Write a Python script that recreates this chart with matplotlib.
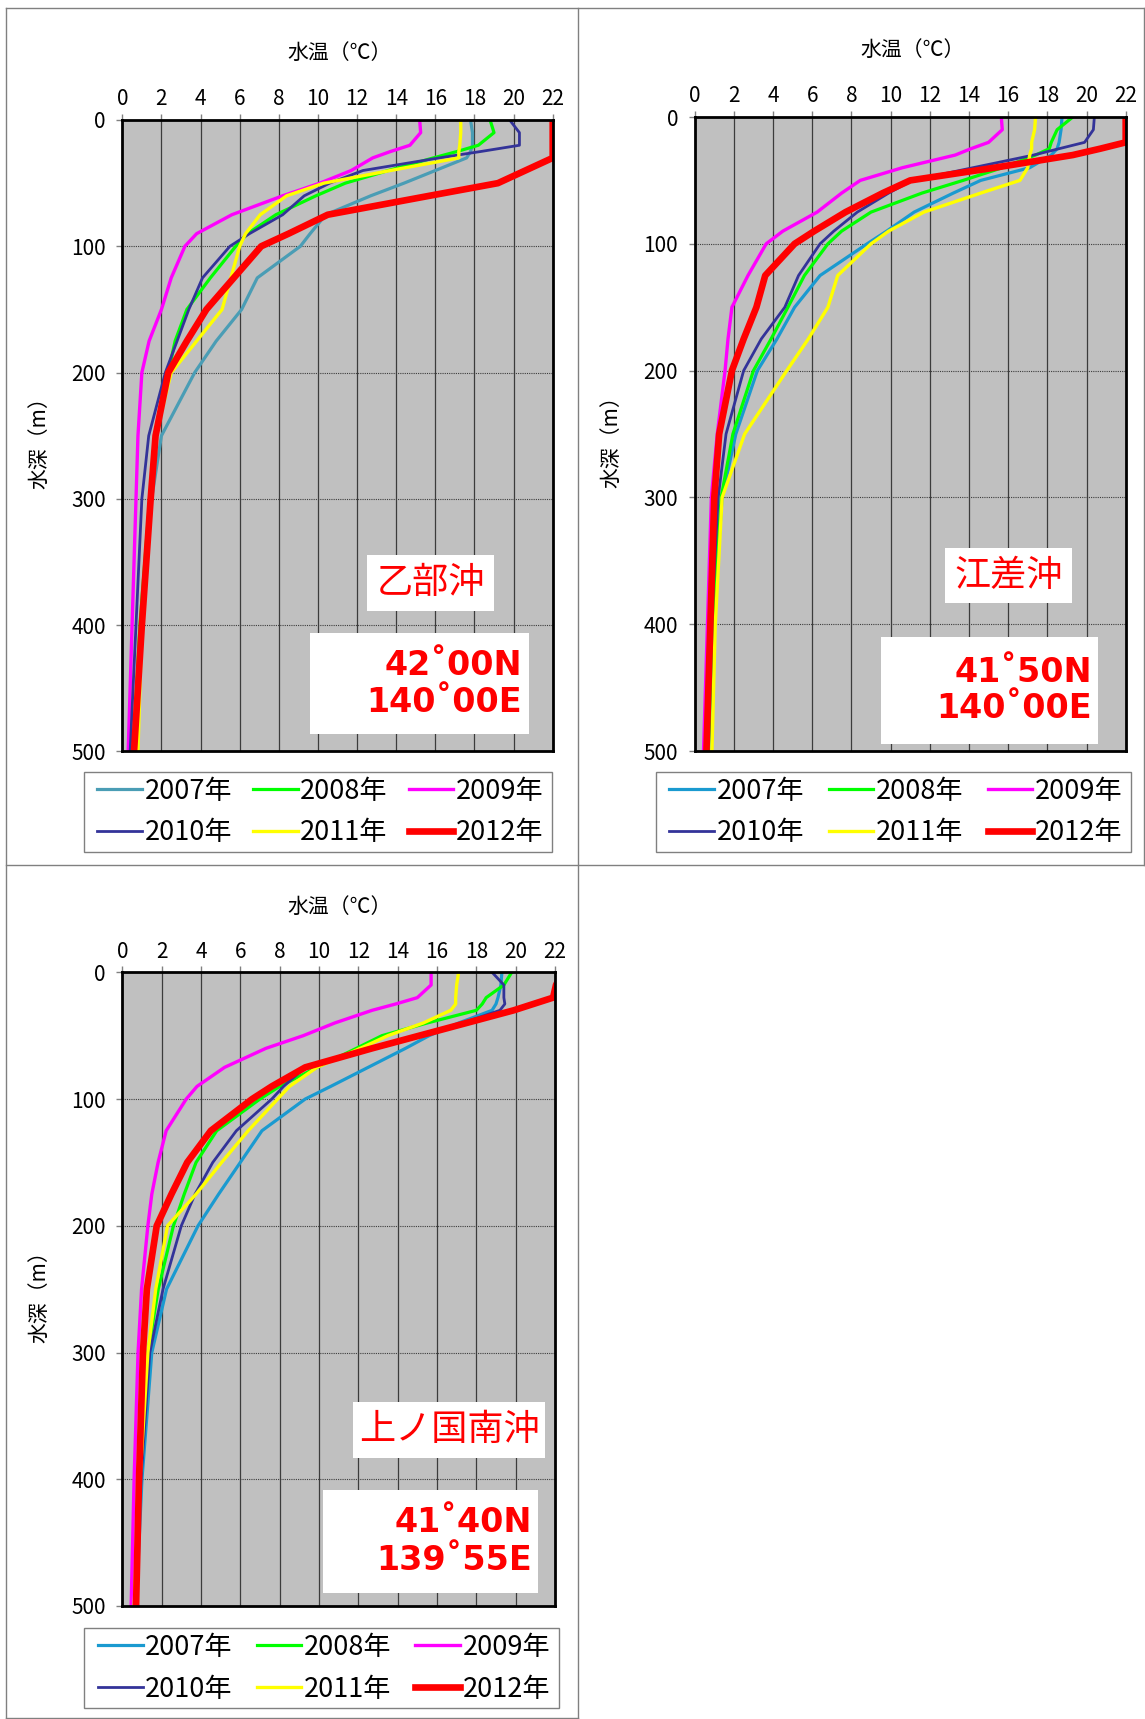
import matplotlib
matplotlib.use('Agg')
import matplotlib.pyplot as plt
from matplotlib.lines import Line2D
from matplotlib.patches import Rectangle

plt.rcParams['font.family'] = ['Noto Sans CJK JP', 'DejaVu Sans']

W, H = 1145, 1719

depth = [0, 10, 20, 25, 30, 40, 50, 60, 75, 90, 100, 125, 150, 175, 200, 250, 300, 400, 500]
years = ['2007年', '2008年', '2009年', '2010年', '2011年', '2012年']

# 乙部沖
otobe_2007 = [17.8, 17.9, 17.9, 17.8, 17.6, 16.0, 14.4, 12.7, 10.4, 9.6, 9.1, 6.9, 6.1, 4.8, 3.7, 2.0, 1.5, 1.0, 0.6]
otobe_2008 = [18.8, 19.0, 18.2, 17.1, 15.9, 13.6, 11.4, 9.9, 7.85, 6.4, 5.8, 4.5, 3.3, 2.7, 2.35, 1.7, 1.4, 0.9, 0.55]
otobe_2009 = [15.2, 15.25, 14.7, 13.7, 12.8, 11.7, 10.1, 8.2, 5.6, 3.8, 3.2, 2.5, 2.0, 1.37, 1.0, 0.8, 0.7, 0.5, 0.3]
otobe_2010 = [19.8, 20.3, 20.3, 18.3, 16.2, 12.3, 10.6, 9.3, 8.2, 6.5, 5.5, 4.1, 3.4, 2.8, 2.2, 1.35, 1.0, 0.7, 0.4]
otobe_2011 = [17.3, 17.3, 17.25, 17.2, 17.2, 13.7, 10.3, 8.4, 7.05, 6.3, 6.0, 5.55, 5.1, 3.8, 2.5, 1.7, 1.4, 1.0, 0.8]
otobe_2012 = [22.0, 22.0, 22.0, 22.0, 22.0, 20.6, 19.2, 15.7, 10.5, 8.5, 7.1, 5.7, 4.3, 3.3, 2.35, 1.7, 1.45, 1.0, 0.6]

# 江差沖
esashi_2007 = [18.75, 18.7, 18.6, 18.5, 18.2, 17.1, 14.6, 13.2, 11.2, 9.8, 8.8, 6.4, 5.1, 4.2, 3.2, 2.1, 1.4, 0.95, 0.7]
esashi_2008 = [19.3, 18.5, 18.2, 18.1, 17.4, 15.7, 13.7, 11.6, 9.0, 7.5, 6.8, 5.6, 4.76, 3.9, 3.0, 1.95, 1.35, 0.9, 0.7]
esashi_2009 = [15.65, 15.7, 15.0, 14.1, 13.3, 10.6, 8.45, 7.5, 6.25, 4.5, 3.65, 2.72, 1.9, 1.7, 1.55, 1.15, 0.85, 0.65, 0.45]
esashi_2010 = [20.4, 20.35, 19.9, 18.6, 17.3, 14.2, 11.1, 9.9, 8.3, 7.1, 6.4, 5.3, 4.6, 3.4, 2.5, 1.6, 1.2, 0.85, 0.6]
esashi_2011 = [17.4, 17.35, 17.2, 17.2, 17.1, 17.0, 16.6, 14.6, 11.7, 9.9, 9.0, 7.3, 6.8, 5.8, 4.7, 2.55, 1.4, 1.05, 0.88]
esashi_2012 = [22.0, 22.0, 22.0, 20.7, 19.3, 15.3, 11.0, 9.6, 7.7, 6.1, 5.1, 3.6, 3.15, 2.5, 1.9, 1.25, 1.0, 0.8, 0.6]

# 上ノ国南沖
kami_2007 = [19.3, 19.25, 19.1, 19.0, 18.8, 17.1, 15.6, 14.4, 12.5, 10.6, 9.3, 7.1, 6.0, 4.9, 3.85, 2.25, 1.5, 1.0, 0.7]
kami_2008 = [19.8, 19.4, 18.5, 18.3, 18.0, 15.5, 13.2, 11.9, 9.9, 8.0, 7.0, 4.8, 3.75, 3.15, 2.6, 1.83, 1.3, 0.9, 0.6]
kami_2009 = [15.7, 15.7, 15.0, 13.9, 12.7, 10.8, 9.2, 7.3, 5.2, 3.8, 3.25, 2.23, 1.82, 1.5, 1.3, 0.98, 0.8, 0.6, 0.45]
kami_2010 = [18.8, 19.4, 19.4, 19.45, 19.2, 17.3, 14.9, 12.7, 9.3, 8.2, 7.6, 5.8, 4.6, 3.7, 3.0, 2.07, 1.4, 0.95, 0.6]
kami_2011 = [17.1, 17.0, 16.95, 16.95, 16.7, 15.3, 13.5, 12.1, 9.9, 8.5, 7.9, 6.4, 5.05, 3.75, 2.3, 1.7, 1.3, 0.9, 0.6]
kami_2012 = [22.4, 22.05, 21.9, 20.9, 19.9, 17.5, 15.1, 12.7, 9.3, 7.6, 6.6, 4.5, 3.3, 2.5, 1.75, 1.25, 1.05, 0.85, 0.7]

colors_otobe = ['#4A9DB5', '#00FF00', '#FF00FF', '#333399', '#FFFF00', '#FF0000']
colors_other = ['#1A9AD0', '#00FF00', '#FF00FF', '#333399', '#FFFF00', '#FF0000']
widths = [2.3, 2.3, 2.4, 2.0, 2.4, 4.8]

fig = plt.figure(figsize=(W / 100, H / 100), dpi=100)


def frac(x0, y0, x1, y1):
    # pixel box (top-left origin) -> figure fraction [left, bottom, width, height]
    return [x0 / W, 1 - y1 / H, (x1 - x0) / W, (y1 - y0) / H]


def box(x0, y0, x1, y1, edge='none', lw=0):
    l, b, w, h = frac(x0, y0, x1, y1)
    fig.add_artist(Rectangle((l, b), w, h, transform=fig.transFigure,
                             facecolor='white', edgecolor=edge, linewidth=lw, zorder=1))


def panel(axbox, temps, colors, title_xy, ylab_xy, legframe, name, namebox, coords, right, baselines, coordbox):
    ax = fig.add_axes(frac(*axbox))
    ax.set_facecolor('#C0C0C0')
    for t, c, lw, lab in zip(temps, colors, widths, years):
        ax.plot(t, depth, color=c, lw=lw, label=lab, solid_joinstyle='round')
    ax.set_xlim(0, 22)
    ax.set_ylim(500, 0)
    ax.set_xticks(range(0, 23, 2))
    ax.set_yticks(range(0, 501, 100))
    ax.xaxis.tick_top()
    ax.tick_params(direction='out', length=4, width=1, color='#808080', labelsize=15)
    ax.tick_params(axis='x', pad=3)
    ax.tick_params(axis='y', pad=8)
    ax.grid(axis='x', color='#3C3C3C', lw=0.9, ls='-')
    ax.grid(axis='y', color='#3C3C3C', lw=0.8, ls=(0, (1, 1)))
    for s in ax.spines.values():
        s.set_color('black')
        s.set_linewidth(2)

    fig.text(title_xy[0] / W, 1 - title_xy[1] / H, '水温（℃）', ha='center', va='center', fontsize=15)
    fig.text(ylab_xy[0] / W, 1 - ylab_xy[1] / H, '水深（m）', ha='center', va='center',
             rotation=90, fontsize=15)

    # legend: frame drawn by hand, entries row by row
    box(*legframe, edge='#808080', lw=1)
    handles = [Line2D([], [], color=c, lw=lw) for c, lw in zip(colors, widths)]
    order = [0, 3, 1, 4, 2, 5]
    x0, y0, x1, y1 = legframe
    fig.legend([handles[i] for i in order], [years[i] for i in order],
               loc='center', bbox_to_anchor=frac(x0 + 13.7, y0, x1 - 8.6, y1),
               bbox_transform=fig.transFigure, ncol=3, mode='expand', frameon=False,
               fontsize=19.5, handlelength=1.64, handletextpad=0.1, borderpad=0,
               borderaxespad=0, labelspacing=0.55, columnspacing=0.5)

    box(*namebox)
    fig.text((namebox[0] + namebox[2]) / 2 / W, 1 - (namebox[1] + namebox[3]) / 2 / H, name,
             ha='center', va='center', color='red', fontsize=26, zorder=3)
    box(*coordbox)
    for line, yb in zip(coords, baselines):
        fig.text(right / W, 1 - yb / H, line, ha='right', va='baseline', color='red',
                 fontsize=24, fontweight='bold', family='DejaVu Sans', zorder=3)


panel((122.3, 120, 552.7, 751.5),
      [otobe_2007, otobe_2008, otobe_2009, otobe_2010, otobe_2011, otobe_2012], colors_otobe,
      (340, 53), (39, 438), (83.6, 771.7, 552.4, 852.3),
      '乙部沖', (367, 555, 494, 610.7), ['42˚00N', '140˚00E'], 522, (675, 711.7),
      (310, 633, 529, 734.5))

panel((694.7, 117, 1125.7, 751),
      [esashi_2007, esashi_2008, esashi_2009, esashi_2010, esashi_2011, esashi_2012], colors_other,
      (913, 50), (611, 437), (655.7, 771.7, 1131.2, 852.3),
      '江差沖', (945, 548, 1071.5, 603.3), ['41˚50N', '140˚00E'], 1092, (681.7, 718.3),
      (881.4, 636.7, 1098.4, 744.3))

panel((122.3, 972.3, 555, 1606),
      [kami_2007, kami_2008, kami_2009, kami_2010, kami_2011, kami_2012], colors_other,
      (340, 906.7), (39, 1292), (84.4, 1628.3, 558.6, 1708.3),
      '上ノ国南沖', (353.3, 1402.3, 545, 1457.7), ['41˚40N', '139˚55E'], 532, (1531.7, 1570),
      (323, 1490, 537.5, 1592.7))

# panel borders
for xa, ya, xb, yb in [(5.5, 7.7, 1145, 7.7), (5.5, 7.7, 5.5, 1719), (578, 7.7, 578, 1719),
                       (5.5, 865, 1145, 865), (1144, 7.7, 1144, 865), (5.5, 1718, 578, 1718)]:
    fig.add_artist(Line2D([xa / W, xb / W], [1 - ya / H, 1 - yb / H], transform=fig.transFigure,
                          color='#808080', lw=1))

fig.savefig('out.png', dpi=100)
